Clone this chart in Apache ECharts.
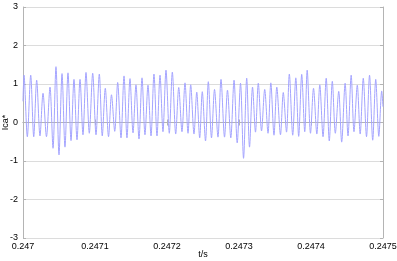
<!DOCTYPE html>
<html>
<head>
<meta charset="utf-8">
<script src="https://cdn.jsdelivr.net/npm/echarts@6/dist/echarts.min.js"></script>
<style>
  html, body { margin: 0; padding: 0; background: #fff; }
  #chart { width: 397px; height: 261px; }
</style>
</head>
<body>
<div id="chart"></div>
<script>
// offsets from t = 0.247 s, in microseconds
var peakTimeUs = [1.4, 10.7, 19.0, 27.8, 37.5, 45.8, 54.2, 62.5, 70.8, 79.2, 87.5, 96.8, 106.0, 114.3, 122.9,
  131.5, 140.3, 148.6, 156.9, 165.3, 173.6, 181.9, 190.3, 198.6, 207.4, 216.3, 225.0, 232.9, 241.3, 249.0,
  257.4, 266.0, 275.0, 284.0, 293.1, 302.1, 310.7, 318.8, 326.8, 335.7, 344.2, 352.5, 361.5, 369.9, 378.9,
  387.1, 394.7, 403.5, 412.2, 421.1, 429.6, 438.5, 447.4, 455.8, 464.3, 472.6, 481.3, 489.9, 498.2];
var peakValues = [1.23, 1.23, 1.10, 0.76, 0.92, 1.45, 1.27, 1.29, 1.12, 1.12, 1.30, 1.28, 1.26, 0.89, 0.72,
  1.04, 1.21, 1.14, 0.98, 1.16, 0.97, 1.26, 1.23, 1.36, 1.31, 0.91, 1.03, 0.98, 0.79, 0.80,
  1.06, 0.86, 1.12, 0.84, 1.10, 1.02, 1.15, 0.92, 1.02, 0.86, 1.03, 0.92, 0.78, 1.26, 1.16,
  1.25, 1.36, 0.89, 0.98, 1.15, 1.07, 0.81, 1.02, 1.23, 0.97, 1.15, 1.23, 1.12, 0.82];
var troughTimeUs = [6.0, 14.9, 23.6, 32.6, 41.7, 50.0, 58.3, 66.7, 75.0, 83.3, 92.1, 101.4, 110.1, 118.8,
  127.4, 136.1, 144.4, 152.8, 161.1, 169.4, 177.8, 186.1, 194.4, 203.2, 212.1, 220.8, 229.2, 237.5, 245.4,
  253.5, 261.8, 270.8, 279.9, 288.6, 297.5, 306.3, 314.6, 322.9, 331.3, 340.3, 348.6, 357.6, 366.0, 374.6,
  382.9, 391.3, 399.3, 408.1, 416.7, 425.4, 433.8, 442.6, 451.4, 459.7, 468.3, 477.1, 485.7, 494.2];
var troughValues = [-0.37, -0.37, -0.35, -0.37, -0.67, -0.84, -0.64, -0.47, -0.45, -0.32, -0.28, -0.32, -0.35, -0.37,
  -0.23, -0.40, -0.40, -0.27, -0.43, -0.32, -0.35, -0.35, -0.24, -0.28, -0.30, -0.24, -0.28, -0.30, -0.40,
  -0.48, -0.40, -0.38, -0.38, -0.40, -0.53, -0.93, -0.64, -0.25, -0.22, -0.28, -0.33, -0.32, -0.25, -0.33,
  -0.36, -0.24, -0.28, -0.30, -0.37, -0.48, -0.28, -0.51, -0.35, -0.24, -0.30, -0.37, -0.46, -0.36];
var startPoint = [0, 0.55];
var endPoint = [500, 0.41];
var xTicks = ['0.247', '0.2471', '0.2472', '0.2473', '0.2474', '0.2475'];
var yTicks = [-3, -2, -1, 0, 1, 2, 3];

// merge peaks and troughs in time order
var pts = [startPoint];
for (var i = 0; i < peakTimeUs.length; i++) {
  pts.push([peakTimeUs[i], peakValues[i]]);
  if (i < troughTimeUs.length) pts.push([troughTimeUs[i], troughValues[i]]);
}
pts.push(endPoint);
var seriesData = pts.map(function (p) { return [0.247 + p[0] / 1e6, p[1]]; });

var chart = echarts.init(document.getElementById('chart'));
var txt = { color: '#000', fontSize: 9, fontFamily: 'Liberation Sans, Arial, sans-serif' };
var boxLine = { show: true, lineStyle: { color: '#b4b4b4', width: 1 } };
var xLabel = function (v) {
  var k = Math.round((v - 0.247) / 0.0001);
  return xTicks[k] !== undefined ? xTicks[k] : '';
};

var option = {
  animation: false,
  grid: { left: 23, right: 14, top: 7, bottom: 23, outerBoundsMode: 'none', containLabel: false },
  xAxis: [{
    type: 'value', min: 0.247, max: 0.2475, interval: 0.0001,
    name: 't/s', nameLocation: 'middle', nameGap: 12, nameMoveOverlap: false, nameTextStyle: txt,
    axisLine: boxLine,
    axisTick: { inside: true, length: 3, lineStyle: { color: '#b4b4b4' } },
    axisLabel: Object.assign({ margin: 4, formatter: xLabel }, txt),
    splitLine: { show: false }
  }, {
    type: 'value', position: 'top', min: 0.247, max: 0.2475, interval: 0.0001,
    axisLine: boxLine,
    axisTick: { inside: true, length: 3, lineStyle: { color: '#b4b4b4' } },
    axisLabel: { show: false }, splitLine: { show: false }
  }],
  yAxis: [{
    type: 'value', min: yTicks[0], max: yTicks[yTicks.length - 1], interval: 1,
    name: 'Ica*', nameLocation: 'middle', nameGap: 13, nameRotate: 90, nameMoveOverlap: false, nameTextStyle: txt,
    axisLine: boxLine,
    axisTick: { inside: true, length: 3, lineStyle: { color: '#b4b4b4' } },
    axisLabel: Object.assign({ margin: 5 }, txt),
    splitLine: { show: true, lineStyle: { color: '#dcdcdc', width: 1 } }
  }, {
    type: 'value', position: 'right', min: -3, max: 3, interval: 1,
    axisLine: boxLine,
    axisTick: { inside: true, length: 3, lineStyle: { color: '#b4b4b4' } },
    axisLabel: { show: false }, splitLine: { show: false }
  }],
  series: [{
    type: 'line',
    data: seriesData,
    showSymbol: false,
    smooth: 0.3,
    lineStyle: { color: '#a4a4ff', width: 1 }
  }]
};
chart.setOption(option);
</script>
</body>
</html>
